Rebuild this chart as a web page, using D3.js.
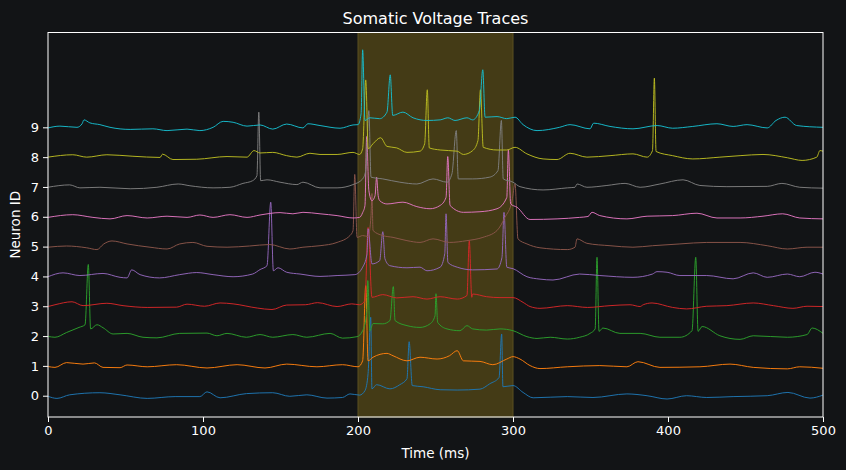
<!DOCTYPE html>
<html>
<head>
<meta charset="utf-8">
<script src="https://cdn.jsdelivr.net/npm/d3@7"></script>
<style>
  html, body { margin: 0; padding: 0; background: #121416; }
  svg { display: block; }
</style>
</head>
<body>
<svg id="chart" width="846" height="470"></svg>
<script>
// ---------- DATA ----------
const neuronIds = [0, 1, 2, 3, 4, 5, 6, 7, 8, 9];
const xTicks = [0, 100, 200, 300, 400, 500];
const yTicks = [0, 1, 2, 3, 4, 5, 6, 7, 8, 9];
const stimulusWindow = [200, 300];
const traceColors = ["#1f77b4","#ff7f0e","#2ca02c","#d62728","#9467bd","#8c564b","#e377c2","#7f7f7f","#bcbd22","#17becf"];

// each trace: [time (ms), voltage offset from neuron id]
const trace0 = [[0,-0.02],[5.8,-0.09],[14,0.03],[33.5,0.10],[46.5,0.03],[64,-0.09],[82,-0.03],[98,-0.03],[102.6,0.13],[111,-0.07],[128,0.07],[145,0.10],[156,-0.02],[167,0.03],[180,-0.08],[190,-0.06],[194.8,0.06],[201,0.02],[204.5,0.17],[206.5,0.74],[208.2,2.63],[209,0.23],[212,0.37],[220.6,0.23],[227,0.37],[231.6,0.57],[233,1.81],[235,0.34],[242,0.30],[253,0.20],[264,0.19],[278.7,0.22],[285,0.40],[291,0.61],[292.7,2.07],[293.5,0.30],[300,0.34],[306.5,0.11],[313,-0.07],[335,-0.03],[351.6,-0.06],[373.5,0.06],[386.5,0],[399.4,-0.11],[412,0],[425,-0.06],[442,-0.03],[464,0],[477.4,0.11],[491.6,-0.08],[500,0.02]];
const trace1 = [[0,-0.02],[4.5,-0.05],[12,0.11],[22.6,0.06],[30,0.10],[35.5,-0.05],[46.5,-0.06],[51,0.03],[64,-0.03],[83,0.04],[102.6,-0.07],[122,0.04],[140,-0.07],[154,0.06],[173.5,-0.03],[190,0.04],[200,-0.03],[203,0.17],[205,2.69],[206.5,0.17],[209.7,0.29],[218.7,0.42],[222.6,0.34],[231.6,0.17],[240,0.29],[251,0.23],[259,0.34],[264,0.51],[268,0.17],[278.7,0.15],[287,0.04],[296,0.23],[300,0.31],[304.5,0.23],[311,0.01],[317.4,-0.09],[335,-0.03],[356,0.01],[373.5,-0.03],[380.6,0.14],[394.8,-0.05],[420.6,-0.03],[440,0.06],[455,-0.05],[477,-0.10],[485,-0.03],[500,-0.08]];
const trace2 = [[0,-0.01],[4.5,-0.04],[12,0.12],[20,0.29],[23.9,0.38],[26,2.40],[27.5,0.24],[31.6,0.38],[35.5,0.28],[42,0.07],[51,0.09],[61.3,-0.04],[70.3,-0.06],[85,0.09],[102.6,0.10],[109,0.01],[115.5,0.09],[128,-0.04],[136.8,0.05],[145,-0.04],[158,0.05],[167,-0.04],[182,0.09],[190,-0.07],[199.4,-0.02],[203,0.18],[205.8,0.85],[206.3,1.86],[207.7,0.18],[209.7,0.42],[216,0.41],[220.6,0.52],[222.8,1.66],[223.9,0.52],[231.6,0.35],[240,0.29],[246.5,0.41],[249.7,0.68],[250.3,1.42],[251.4,0.46],[257.4,0.24],[265.8,0.18],[270.3,0.35],[274,0.24],[283,0.20],[291.6,0.24],[300,0.18],[309,-0.02],[315.5,-0.08],[324,-0.04],[335,-0.10],[343,-0.04],[349.7,0.09],[353,0.24],[354.2,2.64],[355.5,0.16],[358,0.27],[369,0.09],[382,0.09],[394.8,-0.04],[407.7,-0.04],[415.5,0.18],[417.9,2.64],[419.4,0.16],[422,0.32],[433.5,0.01],[446.5,-0.11],[455,0.01],[477,-0.04],[489.7,0.05],[493,0.27],[500,0.09]];
const trace3 = [[0,-0.01],[4.5,0.05],[15.5,0.15],[22.6,0.02],[38,0.10],[48.4,0.02],[64,-0.04],[83,-0.03],[89.7,0.07],[101,0],[111,0.11],[119.4,0.08],[135,-0.06],[144.5,-0.11],[154,0.04],[166,0.05],[174,0.12],[186.5,-0.01],[196,0.08],[201,0.05],[204.5,0.19],[206.5,2.64],[209,0.30],[216,0.39],[225,0.28],[235.5,0.32],[244.5,0.24],[253,0.32],[264,0.24],[270.3,0.36],[271.8,2.20],[273.4,0.30],[274,0.41],[283,0.32],[291.6,0.29],[300,0.29],[306.5,0.13],[311,-0.01],[317.4,-0.07],[335,0.02],[348,-0.04],[362.6,0.02],[375.5,0.05],[382,-0.01],[384,0.05],[389.7,0.11],[403,-0.04],[412,-0.09],[425,0],[438,0.02],[455,0.11],[468,0.02],[480.6,-0.07],[489.7,0],[500,-0.01]];
const trace4 = [[0,-0.01],[9.7,0.12],[20.6,0.03],[35.5,0.10],[46.5,-0.03],[51,-0.05],[54,0.22],[59.4,0.06],[72,-0.05],[85,0.06],[96,0.13],[106.5,0.06],[119.4,-0.01],[132,0.08],[136.8,0.23],[141.3,0.36],[143.7,2.49],[145.4,0.19],[148.4,0.29],[154,0.14],[162.6,0.08],[175.5,0],[186.5,0.03],[198,0.06],[203,0.31],[205.8,0.75],[206.5,1.60],[209,0.42],[214,0.53],[216,1.50],[217.4,0.59],[220.6,0.36],[231.6,0.29],[240,0.31],[244.5,0.19],[253,0.31],[256,0.77],[256.8,2.10],[258,0.47],[264,0.31],[274,0.22],[289.7,0.25],[292.9,0.64],[294.2,2.15],[296,0.31],[300,0.26],[309,-0.01],[317.4,-0.09],[325.8,-0.12],[343,0.08],[356,0.03],[377.4,-0.03],[390,0.08],[392.9,0.16],[399.4,0.14],[407.7,0.03],[425,0.03],[442,-0.08],[455,0.12],[464,-0.03],[477,0.08],[485,-0.01],[494.8,0.14],[500,0.08]];
const trace5 = [[0,-0.02],[12,0.02],[25,-0.04],[31.6,-0.10],[36,0.09],[41.3,0.19],[51,0.09],[65.8,-0.02],[76.8,-0.08],[85,0.09],[93.5,0.14],[102.6,0.01],[115.5,-0.02],[130,0.02],[143,0.07],[156,-0.08],[164.5,-0.02],[175.5,0.03],[186.5,0.14],[194.8,0.37],[196.8,0.54],[197.9,2.42],[199.4,0.31],[203,0.37],[206.5,0.34],[208.4,1.04],[209,1.78],[209.7,0.54],[216,0.37],[222.6,0.31],[231.6,0.20],[240,0.14],[248.4,0.26],[259,0.14],[270.3,0.20],[280.6,0.31],[289.7,0.54],[294.8,0.98],[299.4,1.54],[301.3,2.11],[303.2,0.26],[309,0.09],[317.4,-0.04],[335,-0.10],[340,-0.02],[341.3,0.26],[347.7,0.11],[362.6,0.03],[377.4,-0.02],[390,0.03],[407.7,0.09],[425,0.14],[446.5,0.14],[464,0.03],[477,-0.08],[489.7,-0.02],[500,-0.02]];
const trace6 = [[0,-0.02],[16,0.07],[29,-0.02],[40,-0.07],[51,0.04],[64,-0.04],[76.8,0.02],[89.7,-0.02],[98,0.06],[106.5,-0.02],[117.4,0.07],[128.4,-0.02],[136.8,0.06],[149.7,0.14],[158,0.10],[164.5,0.15],[175.5,0.10],[186.5,0.04],[196.8,-0.04],[201,-0.02],[203,0.14],[204.5,0.38],[205.6,2.69],[207,0.88],[209,0.54],[211,0.71],[212,1.33],[213,0.71],[214,0.54],[218.7,0.43],[229,0.49],[238,0.34],[246.5,0.27],[253,0.38],[256.8,0.65],[257.9,2.02],[259.4,0.38],[268,0.15],[278.7,0.17],[289.7,0.27],[296,0.65],[297,2.25],[298.5,0.43],[302.6,0.32],[311,-0.09],[328.4,-0.07],[343,-0.02],[348.4,0.01],[351,0.15],[356,0.04],[373.5,-0.07],[386.5,0.02],[403,0.04],[418.7,0.12],[431.6,-0.04],[446.5,-0.04],[461.3,0.02],[474,0.10],[485,-0.04],[500,-0.07]];
const trace7 = [[0,-0.01],[14,0.07],[20.6,-0.03],[33.5,-0.01],[53,-0.06],[70.3,-0.01],[84,0.10],[91.6,0.04],[106.5,-0.03],[117.4,-0.01],[125.8,0.12],[132,0.21],[134.8,0.38],[136,2.51],[137.2,0.21],[141.3,0.24],[149.7,0.16],[160.6,0.08],[164.5,0.16],[175.5,-0.03],[186.5,-0.03],[196.8,0.08],[203,0.27],[205,0.55],[207,2.56],[208.4,0.33],[216,0.27],[227,0.16],[238,0.10],[248.4,0.27],[257.4,0.16],[260.6,0.44],[263.4,1.89],[264.7,0.27],[274,0.27],[285,0.33],[290.3,0.55],[292.5,2.23],[293.7,0.27],[300,0.16],[304.5,0.01],[319.4,-0.10],[335,-0.03],[340,-0.01],[341.3,0.10],[347.7,-0.01],[360.6,0.05],[372.3,0.12],[382,-0.01],[394.8,0.10],[409.7,0.24],[420.6,0.05],[438,0.01],[464,0.02],[473.5,0.12],[485,-0.01],[500,-0.04]];
const trace8 = [[0,0],[16,0.08],[25,0],[38,0.08],[54.8,0.03],[72.3,-0.01],[73.9,0.10],[80.6,-0.08],[96,-0.07],[115.5,0.02],[128.4,0],[132.9,0.22],[136.8,0.14],[145,0.16],[154,0.05],[160.6,0],[169,0.13],[175.5,0.09],[186.5,0.09],[196.8,0.16],[201,0.09],[203,0.28],[205,2.59],[206.6,0.28],[209.7,0.45],[214.6,0.65],[218.7,0.36],[225,0.31],[231.6,0.16],[240,0.20],[243,0.45],[244.7,2.26],[246,0.31],[253,0.24],[264,0.20],[268,0.09],[274,0.22],[277.4,0.56],[279,2.26],[280.8,0.33],[289.7,0.24],[296,0.24],[301.3,0.33],[309,0.11],[319.4,-0.06],[328.4,-0.08],[336.8,0.13],[347.7,0],[362.6,0.05],[377.4,0.11],[386.5,0],[390,0.22],[391.2,2.65],[392.3,0.19],[403,0.05],[416,-0.06],[433.5,0],[446.5,0.05],[461.3,0.09],[477,-0.02],[486.5,-0.11],[496,0],[498,0.22],[500,0.20]];
const trace9 = [[0,-0.02],[7.7,0.04],[18.7,0],[22,0.12],[23.2,0.25],[27,0.15],[33.5,0.09],[40,0],[53,-0.07],[67.7,-0.05],[76.8,-0.11],[89.7,-0.06],[98,-0.11],[106.5,0],[113,0.20],[119.4,0.17],[128.4,0.04],[136.8,0.08],[145,-0.06],[154,0.11],[164.5,-0.02],[167.7,0.12],[175.5,0.06],[188.4,-0.03],[196.8,0.08],[200,0.09],[202,0.45],[203,2.60],[204.5,0.23],[207.7,0.32],[214,0.29],[218.7,0.51],[220.8,1.76],[222.4,0.40],[229,0.51],[235.5,0.32],[244.5,0.23],[253,0.25],[258,0.32],[262.6,0.23],[270.3,0.32],[274,0.25],[278.3,0.56],[280.5,1.93],[282,0.34],[289.7,0.36],[296,0.29],[301.3,0.34],[306.5,0.09],[315.5,-0.11],[330,0],[336.8,0.09],[349.7,-0.05],[352,0.14],[362.6,0.03],[377.4,-0.05],[393,0.06],[403,-0.03],[416,0.03],[431.6,0.12],[442,0.03],[451,0.09],[464,-0.02],[469.7,0.23],[475.5,0.34],[483,0.06],[500,0]];
const traces = [trace0, trace1, trace2, trace3, trace4, trace5, trace6, trace7, trace8, trace9];

// ---------- LAYOUT ----------
const W = 846, H = 470;
const margin = { left: 48, right: 23, top: 32.5, bottom: 53 };
const innerW = W - margin.left - margin.right;
const innerH = H - margin.top - margin.bottom;
const bg = "#121416";
const fg = "#ffffff";

const svg = d3.select("#chart");
svg.append("rect").attr("width", W).attr("height", H).attr("fill", bg);

const x = d3.scaleLinear().domain([0, 500]).range([margin.left, margin.left + innerW]);
const y = d3.scaleLinear().domain([-0.714, 12.18]).range([margin.top + innerH, margin.top]);

// stimulus window shading
svg.append("rect")
  .attr("x", x(stimulusWindow[0]))
  .attr("y", margin.top)
  .attr("width", x(stimulusWindow[1]) - x(stimulusWindow[0]))
  .attr("height", innerH)
  .attr("fill", "#443b16")
  .attr("stroke", "#5a5020")
  .attr("stroke-width", 1);

// clip
svg.append("clipPath").attr("id", "clip")
  .append("rect").attr("x", margin.left).attr("y", margin.top).attr("width", innerW).attr("height", innerH);

const line = d3.line().x(d => x(d[0])).y(d => y(d[1])).curve(d3.curveMonotoneX);
const g = svg.append("g").attr("clip-path", "url(#clip)");
neuronIds.forEach((id, i) => {
  g.append("path")
    .datum(traces[i].map(p => [p[0], id + p[1]]))
    .attr("d", line)
    .attr("fill", "none")
    .attr("stroke", traceColors[i])
    .attr("stroke-width", 1)
    .attr("stroke-linejoin", "round")
    .attr("opacity", 0.95);
});

// frame
svg.append("rect")
  .attr("x", margin.left).attr("y", margin.top)
  .attr("width", innerW).attr("height", innerH)
  .attr("fill", "none").attr("stroke", fg).attr("stroke-width", 1);

// axes
const fontFam = "'DejaVu Sans', sans-serif";
const xAxis = svg.append("g")
  .attr("transform", `translate(0,${margin.top + innerH})`)
  .call(d3.axisBottom(x).tickValues(xTicks).tickSize(5).tickPadding(4).tickFormat(d3.format("d")));
const yAxis = svg.append("g")
  .attr("transform", `translate(${margin.left},0)`)
  .call(d3.axisLeft(y).tickValues(yTicks).tickSize(5).tickPadding(4).tickFormat(d3.format("d")));
[xAxis, yAxis].forEach(a => {
  a.select(".domain").remove();
  a.selectAll(".tick line").attr("stroke", fg).attr("stroke-width", 1);
  a.selectAll(".tick text").attr("fill", fg).attr("font-family", fontFam).attr("font-size", "13px");
});

svg.append("text")
  .attr("x", margin.left + innerW / 2).attr("y", 458)
  .attr("text-anchor", "middle").attr("fill", fg)
  .attr("font-family", fontFam).attr("font-size", "13.5px")
  .text("Time (ms)");

svg.append("text")
  .attr("transform", `translate(20,${margin.top + innerH / 2}) rotate(-90)`)
  .attr("text-anchor", "middle").attr("fill", fg)
  .attr("font-family", fontFam).attr("font-size", "13.5px")
  .text("Neuron ID");

svg.append("text")
  .attr("x", margin.left + innerW / 2).attr("y", 24)
  .attr("text-anchor", "middle").attr("fill", fg)
  .attr("font-family", fontFam).attr("font-size", "16px")
  .text("Somatic Voltage Traces");
</script>
</body>
</html>
